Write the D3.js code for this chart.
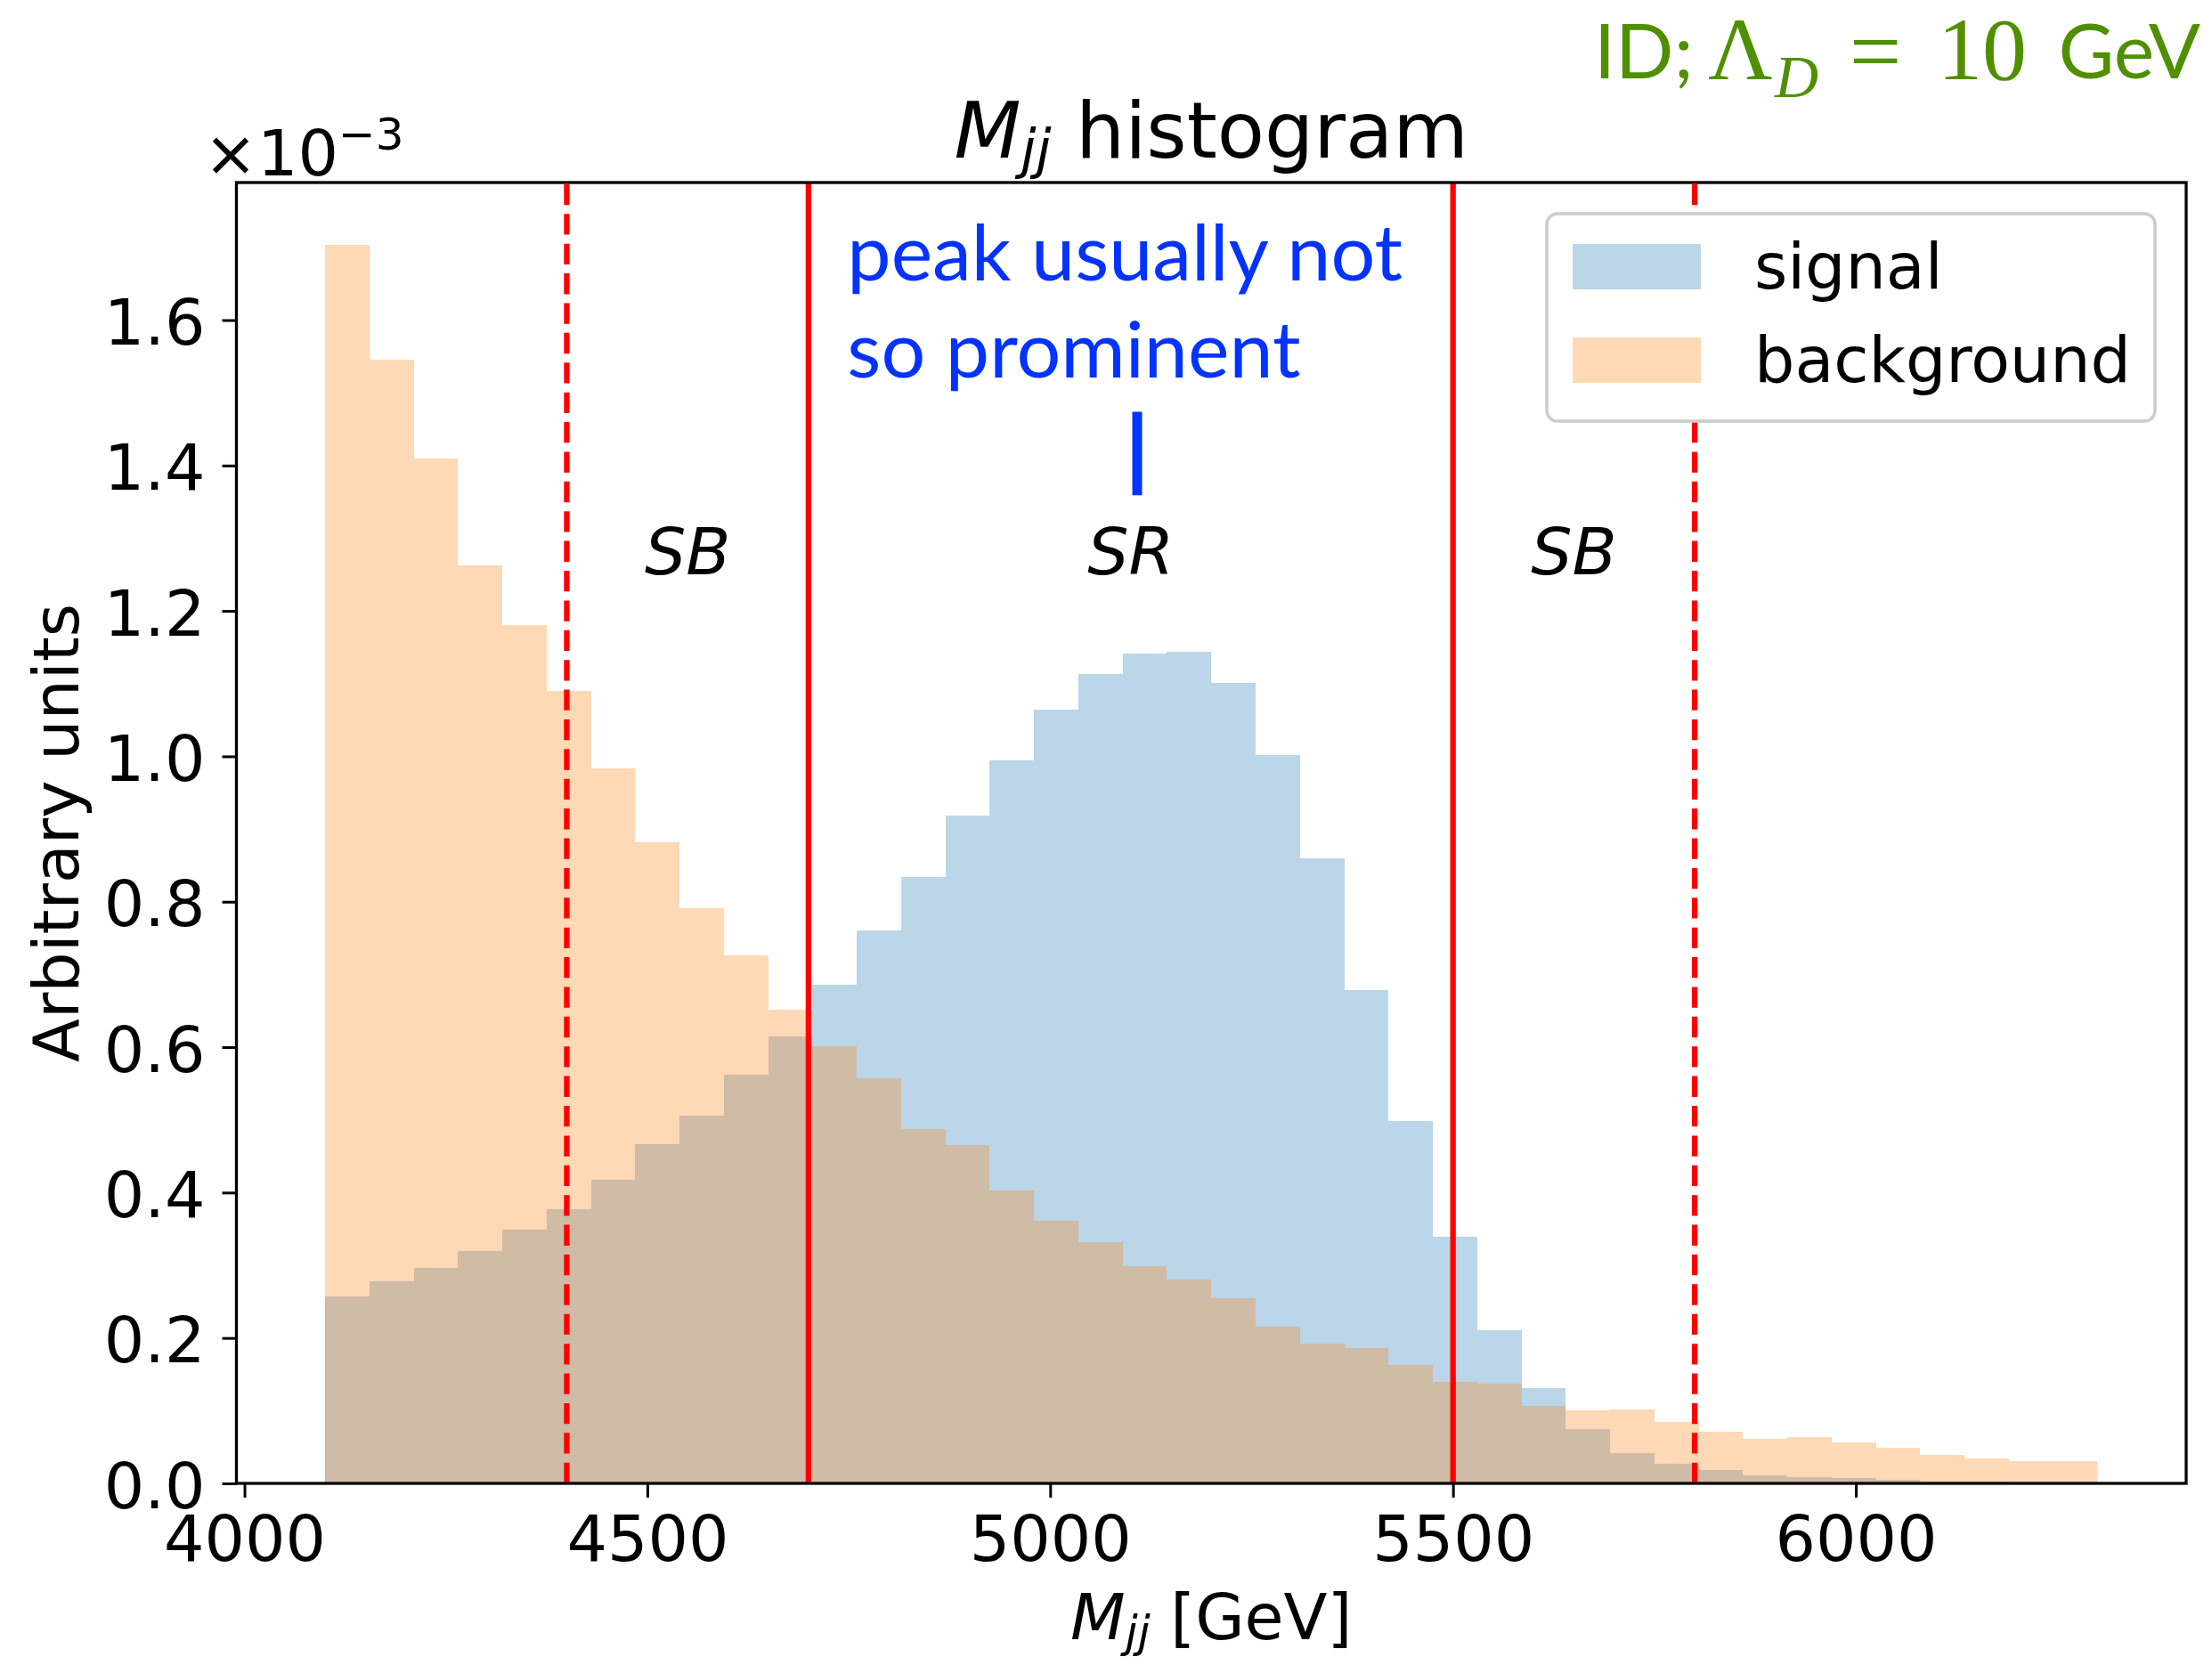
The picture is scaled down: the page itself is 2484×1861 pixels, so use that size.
<!DOCTYPE html>
<html>
<head>
<meta charset="utf-8">
<script src="https://cdn.jsdelivr.net/npm/d3@7"></script>
<style>
  body { margin: 0; background: #fff; }
  svg { display: block; }
  text { font-family: "DejaVu Sans", sans-serif; white-space: pre; }
</style>
</head>
<body>
<svg id="chart" width="2484" height="1861"></svg>
<script>
// Histogram binning (GeV)
const binStart = 4100;
const binWidth = 55;

// Normalised bin contents, in units of 1e-3
const signal = [0.257, 0.278, 0.296, 0.320, 0.349, 0.377, 0.418, 0.467, 0.506, 0.562,
                0.615, 0.686, 0.761, 0.834, 0.918, 0.994, 1.064, 1.113, 1.141, 1.144,
                1.101, 1.002, 0.860, 0.679, 0.499, 0.339, 0.211, 0.131, 0.075, 0.042,
                0.027, 0.018, 0.011, 0.008, 0.007, 0.005, 0.003, 0.002, 0.001, 0.0005];
const background = [1.704, 1.546, 1.409, 1.263, 1.181, 1.090, 0.983, 0.882, 0.791, 0.726,
                    0.651, 0.601, 0.557, 0.488, 0.465, 0.403, 0.361, 0.332, 0.299, 0.281,
                    0.255, 0.216, 0.192, 0.186, 0.163, 0.139, 0.137, 0.106, 0.101, 0.102,
                    0.084, 0.071, 0.0615, 0.064, 0.0566, 0.049, 0.039, 0.034, 0.0306, 0.0306];

const seriesNames = ["signal", "background"];
const xTicks = [4000, 4500, 5000, 5500, 6000];
const yTicks = [0.0, 0.2, 0.4, 0.6, 0.8, 1.0, 1.2, 1.4, 1.6];

// Signal-region edges (solid) and outer sideband edges (dashed), GeV
const srEdges = [4700, 5500];
const sbEdges = [4400, 5800];
const regionNames = ["SB", "SR", "SB"];
const regionCenters = [4550, 5100, 5650];
const regionLabelLevel = 1.25;

// Annotation
const noteLines = ["peak usually not", "so prominent"];
const noteAnchor = { x: 4748, y1: 1.654, y2: 1.521 };
const notePointer = { x: 5108, top: 1.474, bottom: 1.359 };

const svg = d3.select("#chart");
const W = 2484, H = 1861;
svg.append("rect").attr("width", W).attr("height", H).attr("fill", "#fff");

const plot = { left: 265.5, right: 2455, top: 205, bottom: 1666 };
const nBins = signal.length;
const binEnd = binStart + nBins * binWidth;
const span = binEnd - binStart;

const x = d3.scaleLinear()
  .domain([binStart - 0.05 * span, binEnd + 0.05 * span])
  .range([plot.left, plot.right]);
const yMax = 1.05 * d3.max([d3.max(signal), d3.max(background)]);
const y = d3.scaleLinear().domain([0, yMax]).range([plot.bottom, plot.top]);

const colors = { signal: "#1f77b4", background: "#ff7f0e" };
const dataBySeries = { signal, background };

// Histogram bars: signal first, background layered above
const barsG = svg.append("g");
seriesNames.forEach(name => {
  barsG.append("g")
    .selectAll("rect")
    .data(dataBySeries[name])
    .join("rect")
    .attr("x", (d, i) => x(binStart + i * binWidth))
    .attr("width", (d, i) => x(binStart + (i + 1) * binWidth) - x(binStart + i * binWidth))
    .attr("y", d => y(d))
    .attr("height", d => y(0) - y(d))
    .attr("fill", colors[name])
    .attr("fill-opacity", 0.3)
    .attr("shape-rendering", "crispEdges");
});

// Region boundaries
const lineW = 6.3;
svg.append("g").selectAll("line")
  .data(srEdges)
  .join("line")
  .attr("x1", d => x(d)).attr("x2", d => x(d))
  .attr("y1", y(0)).attr("y2", y(yMax))
  .attr("stroke", "#ff0000").attr("stroke-width", lineW);
svg.append("g").selectAll("line")
  .data(sbEdges)
  .join("line")
  .attr("x1", d => x(d)).attr("x2", d => x(d))
  .attr("y1", y(0)).attr("y2", y(yMax))
  .attr("stroke", "#ff0000").attr("stroke-width", lineW)
  .attr("stroke-dasharray", `${3.7 * lineW} ${1.6 * lineW}`);

const baseFont = "71.5px";

// Region labels
svg.append("g").selectAll("text")
  .data(regionNames)
  .join("text")
  .attr("x", (d, i) => x(regionCenters[i]))
  .attr("y", y(regionLabelLevel))
  .attr("text-anchor", "middle")
  .attr("font-style", "italic")
  .style("font-size", "73px")
  .text(d => d);

// Axes
const xAxis = svg.append("g")
  .attr("transform", `translate(0,${plot.bottom})`)
  .call(d3.axisBottom(x).tickValues(xTicks).tickFormat(d3.format("d")).tickSize(16).tickPadding(20));
const yAxis = svg.append("g")
  .attr("transform", `translate(${plot.left},0)`)
  .call(d3.axisLeft(y).tickValues(yTicks).tickFormat(d3.format(".1f")).tickSize(16).tickPadding(19));
[xAxis, yAxis].forEach(g => {
  g.select(".domain").remove();
  g.selectAll(".tick line").attr("stroke", "#000").attr("stroke-width", 3);
  g.selectAll(".tick text")
    .attr("fill", "#000")
    .style("font-family", "DejaVu Sans")
    .style("font-size", baseFont);
});
yAxis.selectAll(".tick text").attr("dy", "0.38em");

// Axes frame
svg.append("rect")
  .attr("x", plot.left).attr("y", plot.top)
  .attr("width", plot.right - plot.left).attr("height", plot.bottom - plot.top)
  .attr("fill", "none").attr("stroke", "#000").attr("stroke-width", 3.3);

// Scale factor of the y axis
const offset = svg.append("text")
  .attr("x", 229).attr("y", 197)
  .style("font-size", baseFont);
offset.append("tspan").text("×10");
offset.append("tspan").attr("dy", -29).style("font-size", "50px").text("−3");

// Title
const cx = (plot.left + plot.right) / 2;
const title = svg.append("text")
  .attr("x", cx).attr("y", 177)
  .attr("text-anchor", "middle")
  .style("font-size", "87px");
title.append("tspan").attr("font-style", "italic").text("M");
title.append("tspan").attr("font-style", "italic").style("font-size", "61px").attr("dy", 11).text("jj");
title.append("tspan").attr("dy", -11).text(" histogram");

// Axis labels
const xl = svg.append("text")
  .attr("x", cx).attr("y", 1841)
  .attr("text-anchor", "middle")
  .style("font-size", baseFont);
xl.append("tspan").attr("font-style", "italic").text("M");
xl.append("tspan").attr("font-style", "italic").style("font-size", "50px").attr("dy", 9).text("jj");
xl.append("tspan").attr("dy", -9).text(" [GeV]");

svg.append("text")
  .attr("transform", `translate(88,${(plot.top + plot.bottom) / 2}) rotate(-90)`)
  .attr("text-anchor", "middle")
  .style("font-size", baseFont)
  .text("Arbitrary units");

// Legend
const legend = svg.append("g");
legend.append("rect")
  .attr("x", 1737).attr("y", 240).attr("width", 683).attr("height", 233)
  .attr("rx", 12).attr("ry", 12)
  .attr("fill", "#fff").attr("stroke", "#cccccc").attr("stroke-width", 3.5);
const rowY = [274, 379];
seriesNames.forEach((name, i) => {
  legend.append("rect")
    .attr("x", 1766).attr("y", rowY[i]).attr("width", 144).attr("height", 51)
    .attr("fill", colors[name]).attr("fill-opacity", 0.3);
  legend.append("text")
    .attr("x", 1970).attr("y", rowY[i] + 50)
    .style("font-size", baseFont)
    .text(name);
});

// Annotation in blue
const noteBlue = "#0433ff";
const noteTexts = svg.append("g").attr("fill", noteBlue)
  .selectAll("text")
  .data(noteLines)
  .join("text")
  .attr("x", x(noteAnchor.x))
  .attr("y", (d, i) => y(i === 0 ? noteAnchor.y1 : noteAnchor.y2))
  .style("font-family", "Lato, 'Open Sans', sans-serif")
  .style("font-size", "88px")
  .text(d => d);
const firstLen = noteTexts.nodes()[0].getComputedTextLength();
noteTexts.style("font-size", (88 * 624 / firstLen) + "px");
svg.append("line")
  .attr("x1", x(notePointer.x)).attr("x2", x(notePointer.x))
  .attr("y1", y(notePointer.top)).attr("y2", y(notePointer.bottom))
  .attr("stroke", noteBlue).attr("stroke-width", 11);

// Model tag, upper right
const green = "#4f8f00";
const serif = "'Liberation Serif', serif";
const tag = svg.append("g").attr("fill", green);
tag.append("text").attr("x", 1790).attr("y", 88)
  .style("font-family", "Lato, sans-serif").style("font-size", "86px").text("ID;");
tag.append("text").attr("x", 1918).attr("y", 89)
  .style("font-family", serif).style("font-size", "100px").text("Λ");
tag.append("text").attr("x", 1993).attr("y", 109)
  .style("font-family", serif).style("font-style", "italic")
  .style("font-size", "68px").text("D");
tag.append("text").attr("x", 2106).attr("y", 93).attr("text-anchor", "middle")
  .style("font-family", serif).style("font-size", "104px").text("=");
tag.append("text").attr("x", 2176).attr("y", 89)
  .style("font-family", serif).style("font-size", "100px").text("10");
tag.append("text").attr("x", 2471).attr("y", 88).attr("text-anchor", "end")
  .style("font-family", "Lato, sans-serif").style("font-size", "86px").text("GeV");
</script>
</body>
</html>
